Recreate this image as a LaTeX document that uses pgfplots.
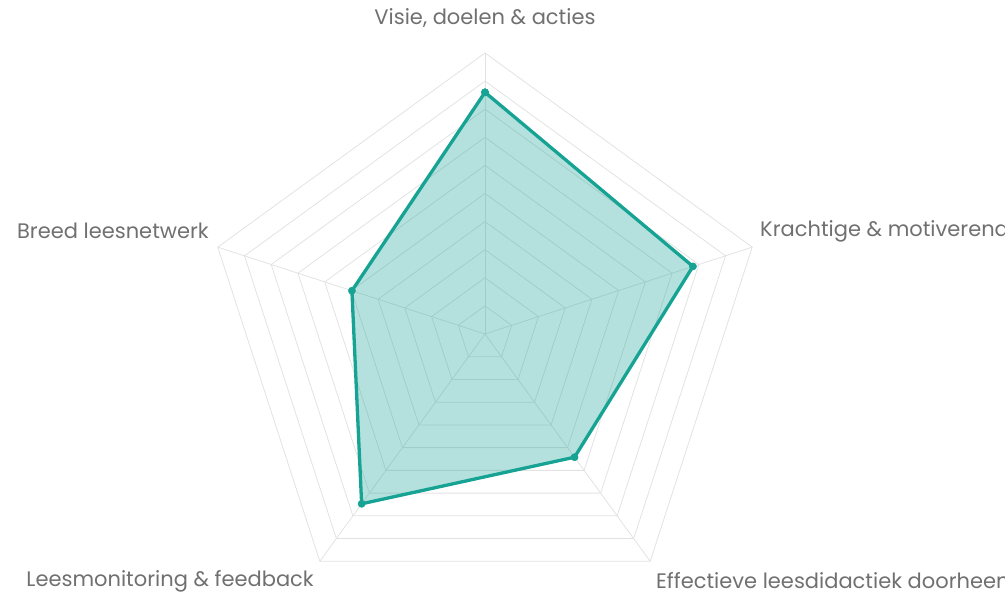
\documentclass[border=0pt]{standalone}
\usepackage{pgfplots}
\pgfplotsset{compat=1.18}
\usepackage{fontspec}
\setmainfont{Poppins}
\definecolor{teal1}{RGB}{22,163,148}
\definecolor{gridc}{RGB}{226,226,226}
\definecolor{labc}{RGB}{112,112,112}
\begin{document}
\begin{tikzpicture}[x=1pt,y=1pt]
\path[use as bounding box, clip] (0,0) rectangle (1005,597);
\begin{axis}[at={(0,0)}, anchor=south west, x=28.1pt, y=28.1pt,
  xmin=-17.26, xmax=18.51, ymin=-9.36, ymax=11.89, hide axis, clip=false]
\pgfplotsinvokeforeach{1,...,10}{
  \addplot[data cs=polar, gridc, line width=0.8pt, no marks] coordinates {(90,#1) (18,#1) (-54,#1) (-126,#1) (162,#1) (90,#1)};
}
\addplot[data cs=polar, gridc, line width=0.8pt, no marks] coordinates {(90,0) (90,10)};
\addplot[data cs=polar, gridc, line width=0.8pt, no marks] coordinates {(18,0) (18,10)};
\addplot[data cs=polar, gridc, line width=0.8pt, no marks] coordinates {(-54,0) (-54,10)};
\addplot[data cs=polar, gridc, line width=0.8pt, no marks] coordinates {(-126,0) (-126,10)};
\addplot[data cs=polar, gridc, line width=0.8pt, no marks] coordinates {(162,0) (162,10)};
\addplot[data cs=polar, draw=teal1, line width=3.3pt, fill=teal1, fill opacity=0.32, draw opacity=1,
  mark=*, mark size=3.6pt, mark options={fill=teal1, draw=teal1, fill opacity=1, line width=0.5pt}, line join=round]
  coordinates {(90,8.6) (18,7.78) (-54,5.42) (-126,7.47) (162,4.98) (90,8.6)};
\end{axis}
\fontsize{21}{25}\selectfont
\node[text=labc, inner sep=0pt] at (485,579) {Visie, doelen \& acties};
\node[text=labc, anchor=west, inner sep=0pt] at (760,366) {Krachtige \& motiverende leesomgeving};
\node[text=labc, anchor=east, inner sep=0pt] at (209,366) {Breed leesnetwerk};
\node[text=labc, anchor=east, inner sep=0pt] at (314,16) {Leesmonitoring \& feedback};
\node[text=labc, anchor=west, inner sep=0pt] at (656,16) {Effectieve leesdidactiek doorheen het curriculum};
\end{tikzpicture}
\end{document}
